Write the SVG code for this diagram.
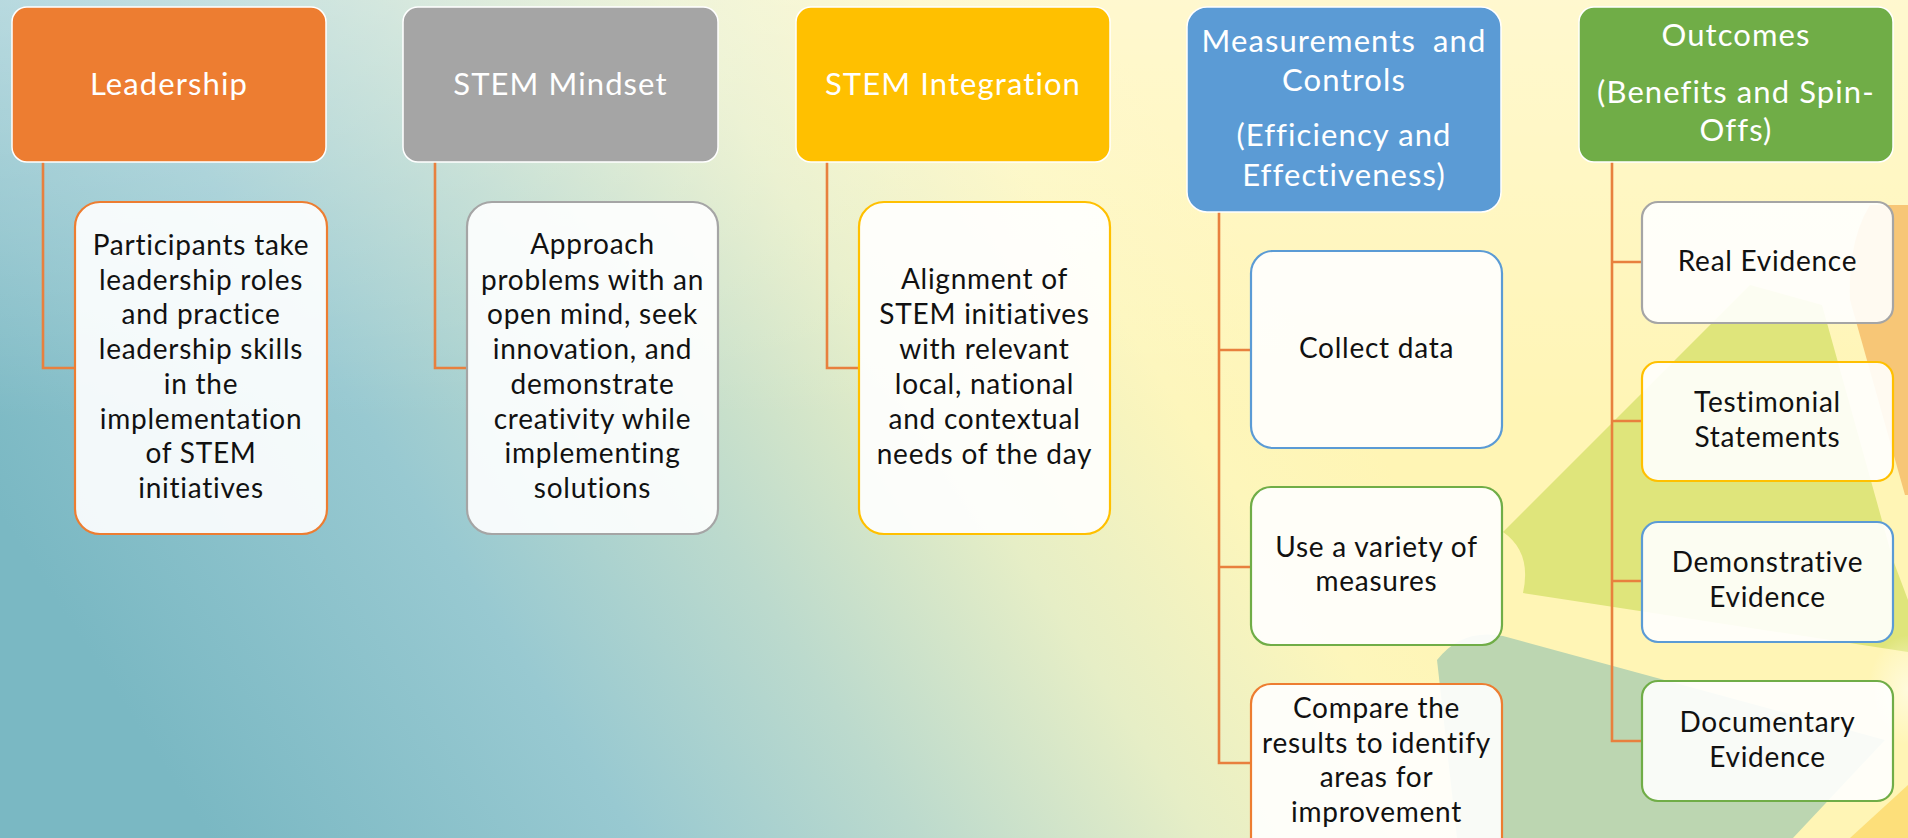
<svg xmlns="http://www.w3.org/2000/svg" width="1908" height="838" viewBox="0 0 1908 838">
<defs>
<linearGradient id="bg" gradientUnits="userSpaceOnUse" x1="250" y1="900" x2="1250" y2="250">
<stop offset="0" stop-color="#7ab8c3"/>
<stop offset="0.3" stop-color="#98c9d1"/>
<stop offset="0.5" stop-color="#bcdacd"/>
<stop offset="0.7" stop-color="#e6eec6"/>
<stop offset="0.88" stop-color="#fdf6bb"/>
<stop offset="1" stop-color="#fff5b5"/>
</linearGradient>
<linearGradient id="topLight" x1="0" y1="0" x2="0" y2="1">
<stop offset="0" stop-color="#ffffff" stop-opacity="0.35"/>
<stop offset="1" stop-color="#ffffff" stop-opacity="0"/>
</linearGradient>
<radialGradient id="glow" cx="0.5" cy="0.5" r="0.5">
<stop offset="0" stop-color="#fffbe0" stop-opacity="0.9"/>
<stop offset="1" stop-color="#fffbe0" stop-opacity="0"/>
</radialGradient>
<style>
.top{stroke:#ffffff;stroke-width:1.5}
.child{fill:#ffffff;fill-opacity:0.9;stroke-width:2.2}
.conn{fill:none;stroke:#E8803E;stroke-width:2.6}
.tt{font-family:Lato,"Open Sans",sans-serif;font-size:31px;letter-spacing:1.1px;fill:#ffffff;text-anchor:middle}
.ct{font-family:Lato,"Open Sans",sans-serif;font-size:28px;letter-spacing:0.75px;fill:#111111;text-anchor:middle}
</style>
</defs>
<rect x="0" y="0" width="1908" height="838" fill="url(#bg)"/>
<rect x="0" y="0" width="1908" height="420" fill="url(#topLight)"/>
<g id="background-shapes">
<path d="M1870,205 Q1848,240 1850,300 L1905,495 L1908,495 L1908,205 Z" fill="#f7c676"/>
<path d="M1503,532 L1750,285 L1822,305 L1893,560 L1908,600 L1908,652 L1523,593 Q1532,552 1503,532 Z" fill="#dfe57b"/>
<path d="M1437,660 Q1462,628 1503,636 L1885,740 L1793,838 L1457,838 Z" fill="#bcd6b1"/>
<path d="M1850,838 L1908,785 L1908,838 Z" fill="#fddf7a"/>
<ellipse cx="1908" cy="690" rx="40" ry="55" fill="url(#glow)"/>
</g>
<g id="connectors">
<path class="conn" d="M43,162 V368 H75"/>
<path class="conn" d="M435,162 V368 H467"/>
<path class="conn" d="M827,162 V368 H859"/>
<path class="conn" d="M1219,212 V763 H1251 M1219,350 H1251 M1219,567 H1251"/>
<path class="conn" d="M1612,162 V741 H1642 M1612,262 H1642 M1612,421 H1642 M1612,581 H1642"/>
</g>
<g id="leadership">
<rect class="top" x="12" y="7" width="314" height="155" rx="15" fill="#ED7D31"/>
<text class="tt" x="169" y="95">Leadership</text>
</g>
<g id="leadership-detail">
<rect class="child" x="75" y="202" width="252" height="332" rx="25" stroke="#ED7D31"/>
<text class="ct" x="201" y="255">Participants take</text>
<text class="ct" x="201" y="289.7">leadership roles</text>
<text class="ct" x="201" y="324.4">and practice</text>
<text class="ct" x="201" y="359.1">leadership skills</text>
<text class="ct" x="201" y="393.8">in the</text>
<text class="ct" x="201" y="428.5">implementation</text>
<text class="ct" x="201" y="463.2">of STEM</text>
<text class="ct" x="201" y="497.9">initiatives</text>
</g>
<g id="stem-mindset">
<rect class="top" x="403" y="7" width="315" height="155" rx="15" fill="#A5A5A5"/>
<text class="tt" x="560.5" y="95">STEM Mindset</text>
</g>
<g id="stem-mindset-detail">
<rect class="child" x="467" y="202" width="251" height="332" rx="25" stroke="#A5A5A5"/>
<text class="ct" x="592.5" y="254">Approach</text>
<text class="ct" x="592.5" y="289.7">problems with an</text>
<text class="ct" x="592.5" y="324.4">open mind, seek</text>
<text class="ct" x="592.5" y="359.1">innovation, and</text>
<text class="ct" x="592.5" y="393.8">demonstrate</text>
<text class="ct" x="592.5" y="428.5">creativity while</text>
<text class="ct" x="592.5" y="463.2">implementing</text>
<text class="ct" x="592.5" y="497.9">solutions</text>
</g>
<g id="stem-integration">
<rect class="top" x="796" y="7" width="314" height="155" rx="15" fill="#FFC000"/>
<text class="tt" x="953" y="95">STEM Integration</text>
</g>
<g id="stem-integration-detail">
<rect class="child" x="859" y="202" width="251" height="332" rx="25" stroke="#FFC000"/>
<text class="ct" x="984.5" y="289">Alignment of</text>
<text class="ct" x="984.5" y="324">STEM initiatives</text>
<text class="ct" x="984.5" y="358.5">with relevant</text>
<text class="ct" x="984.5" y="393.5">local, national</text>
<text class="ct" x="984.5" y="428.5">and contextual</text>
<text class="ct" x="984.5" y="463.5">needs of the day</text>
</g>
<g id="measurements">
<rect class="top" x="1187" y="7" width="314" height="205" rx="20" fill="#5B9BD5"/>
<text class="tt" x="1344" y="52" style="word-spacing:8px">Measurements and</text>
<text class="tt" x="1344" y="91">Controls</text>
<text class="tt" x="1344" y="146">(Efficiency and</text>
<text class="tt" x="1344" y="186">Effectiveness)</text>
</g>
<g id="collect-data">
<rect class="child" x="1251" y="251" width="251" height="197" rx="22" stroke="#5B9BD5"/>
<text class="ct" x="1376.5" y="358">Collect data</text>
</g>
<g id="variety-of-measures">
<rect class="child" x="1251" y="487" width="251" height="158" rx="20" stroke="#70AD47"/>
<text class="ct" x="1376.5" y="557">Use a variety of</text>
<text class="ct" x="1376.5" y="591">measures</text>
</g>
<g id="compare-results">
<rect class="child" x="1251" y="684" width="251" height="200" rx="20" stroke="#ED7D31"/>
<text class="ct" x="1376.5" y="718">Compare the</text>
<text class="ct" x="1376.5" y="752.5">results to identify</text>
<text class="ct" x="1376.5" y="787">areas for</text>
<text class="ct" x="1376.5" y="821.5">improvement</text>
</g>
<g id="outcomes">
<rect class="top" x="1579" y="7" width="314" height="155" rx="15" fill="#70AD47"/>
<text class="tt" x="1736" y="46">Outcomes</text>
<text class="tt" x="1736" y="103">(Benefits and Spin-</text>
<text class="tt" x="1736" y="141">Offs)</text>
</g>
<g id="real-evidence">
<rect class="child" x="1642" y="202" width="251" height="121" rx="16" stroke="#A5A5A5"/>
<text class="ct" x="1767.5" y="271">Real Evidence</text>
</g>
<g id="testimonial-statements">
<rect class="child" x="1642" y="362" width="251" height="119" rx="16" stroke="#FFC000"/>
<text class="ct" x="1767.5" y="412">Testimonial</text>
<text class="ct" x="1767.5" y="447">Statements</text>
</g>
<g id="demonstrative-evidence">
<rect class="child" x="1642" y="522" width="251" height="120" rx="16" stroke="#5B9BD5"/>
<text class="ct" x="1767.5" y="572">Demonstrative</text>
<text class="ct" x="1767.5" y="607">Evidence</text>
</g>
<g id="documentary-evidence">
<rect class="child" x="1642" y="681" width="251" height="120" rx="16" stroke="#70AD47"/>
<text class="ct" x="1767.5" y="732">Documentary</text>
<text class="ct" x="1767.5" y="767">Evidence</text>
</g>
</svg>
